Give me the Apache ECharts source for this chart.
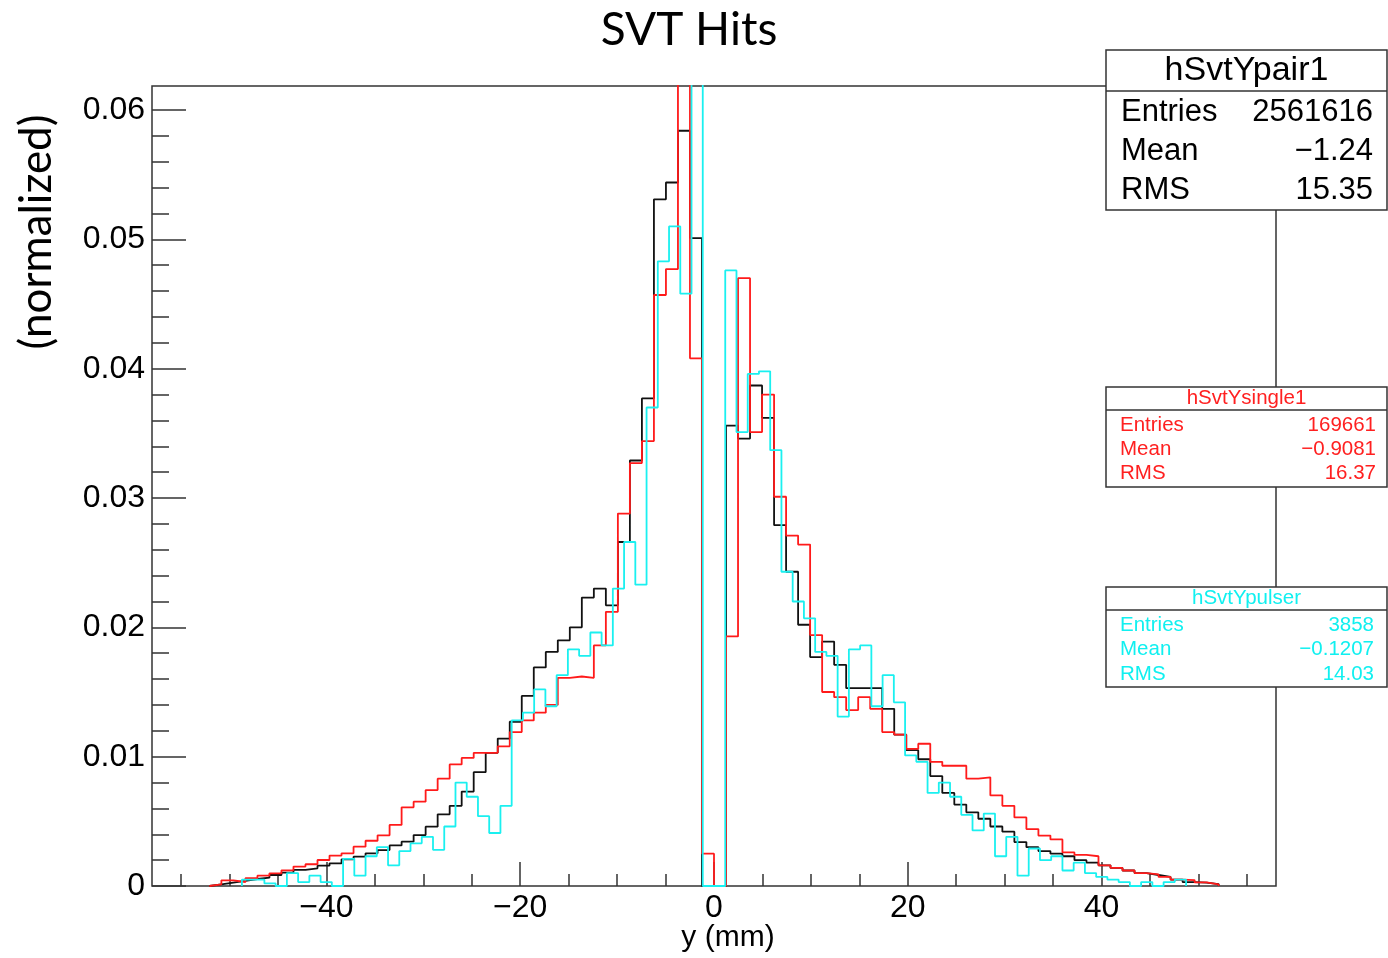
<!DOCTYPE html>
<html><head><meta charset="utf-8">
<script src="https://cdn.jsdelivr.net/npm/echarts@6/dist/echarts.min.js"></script>
<style>html,body{margin:0;padding:0;background:#fff}#c{width:1388px;height:958px}</style>
</head><body><div id="c"></div><script>
// ---- data (bin contents, normalized) ----
const pairStart = -52.08, pairWidth = 1.24;     // hSvtYpair1 bins (black)
const pairValues = [0.00013,0.00026,0.00039,0.00054,0.00064,0.00085,0.00103,0.00124,0.00137,0.00157,
 0.00175,0.00206,0.00227,0.00253,0.00278,0.00314,0.00343,0.00394,0.00459,0.00554,
 0.0062,0.0073,0.0088,0.0103,0.0114,0.0127,0.0147,0.0169,0.0181,0.0190,
 0.0200,0.0223,0.0230,0.0217,0.0266,0.0329,0.0377,0.0531,0.0544,0.0584,
 0.0501,0,0,0.0356,0.0346,0.0387,0.0362,0.0279,0.0243,0.0202,
 0.0177,0.0189,0.0171,0.0153,0.0153,0.0153,0.0137,0.0117,0.0105,0.0098,
 0.0085,0.0072,0.0063,0.0057,0.0052,0.0046,0.0042,0.0034,0.0030,0.0027,
 0.0025,0.0023,0.0020,0.0018,0.0016,0.0014,0.0012,0.0010,0.00085,0.0007,
 0.0005,0.0003,0.00026,0.00015];
const singleStart = -52.08, singleWidth = 1.24; // hSvtYsingle1 bins (red)
const singleValues = [0.00013,0.00044,0.00031,0.0006,0.0008,0.00098,0.00121,0.0015,0.00168,0.00201,
 0.00235,0.00253,0.00304,0.0035,0.00392,0.00472,0.00608,0.00652,0.00742,0.0083,
 0.0094,0.0099,0.0103,0.0103,0.0108,0.0119,0.0128,0.0134,0.0140,0.0161,
 0.0162,0.0161,0.0186,0.0212,0.0288,0.0327,0.0344,0.0457,0.0477,0.068,
 0.0408,0.0025,0,0.0193,0.0470,0.0351,0.0380,0.0301,0.0271,0.0264,
 0.0194,0.0150,0.0146,0.0136,0.0146,0.0137,0.0119,0.0117,0.0106,0.0110,
 0.0096,0.0093,0.0093,0.0083,0.0084,0.0070,0.0062,0.0053,0.0044,0.0039,
 0.0036,0.0026,0.0024,0.0023,0.0016,0.0014,0.0012,0.0010,0.0009,0.0007,
 0.0005,0.00046,0.00028,0.00013];
const pulserStart = -48.72, pulserWidth = 1.16;  // hSvtYpulser bins (cyan)
const pulserValues = [0.0005,0.0005,0.0002,0,0.0010,0.0003,0.0008,0.0003,0,0.0021,
 0.0008,0.0023,0.0030,0.0016,0.0027,0.0033,0.0038,0.0028,0.0046,0.0080,
 0.0069,0.0054,0.0041,0.0062,0.0128,0.0134,0.0152,0.0139,0.0163,0.0183,
 0.0178,0.0196,0.0186,0.0230,0.0266,0.0233,0.0370,0.0483,0.0510,0.0458,
 0.070,0,0,0.0476,0.0351,0.0396,0.0398,0.0337,0.0243,0.0220,
 0.0207,0.0181,0.0178,0.0131,0.0183,0.0186,0.0139,0.0163,0.0142,0.0101,
 0.0096,0.0072,0.0080,0.0069,0.0055,0.0043,0.0056,0.0023,0.0038,0.0008,
 0.0029,0.0020,0.0023,0.0012,0.0018,0.0010,0.0007,0.0005,0.0003,0,
 0.0003,0,0.0003,0.0005];
const xMajorTicks = [-40,-20,0,20,40];
const xMinorTicks = [-55,-50,-45,-35,-30,-25,-15,-10,-5,5,10,15,25,30,35,45,50,55];
const yMajorTicks = [0,0.01,0.02,0.03,0.04,0.05,0.06];
const yMinorTicks = [0.002,0.004,0.006,0.008,0.012,0.014,0.016,0.018,0.022,0.024,0.026,0.028,
 0.032,0.034,0.036,0.038,0.042,0.044,0.046,0.048,0.052,0.054,0.056,0.058];
const chartTitle = 'SVT Hits';
const xTitle = 'y (mm)';
const yTitle = '(normalized)';
const statNames = ['hSvtYpair1','hSvtYsingle1','hSvtYpulser'];
const statEntries = ['2561616','169661','3858'];
const statMeans = ['\u22121.24','\u22120.9081','\u22120.1207'];
const statRms = ['15.35','16.37','14.03'];

// ---- build ----
function steps(vals, start, w){
  const pts=[[start,0]];
  vals.forEach((v,i)=>{pts.push([start+i*w,v]);pts.push([start+(i+1)*w,v]);});
  pts.push([start+vals.length*w,0]);
  return pts;
}
const FONT='"Liberation Sans", Arial, sans-serif';
const TICK='#333';
function xAxisDef(ticks, len, labels){
  return {type:'value',min:-58,max:58,position:'bottom',gridIndex:0,
    axisLine:{show:false,onZero:false},splitLine:{show:false},
    axisTick:{show:true,inside:true,length:len,customValues:ticks,lineStyle:{color:TICK,width:1.5}},
    axisLabel:labels?{show:true,customValues:ticks,margin:6,fontSize:32,fontFamily:FONT,color:'#000',
      formatter:v=>v<0?'\u2212'+Math.abs(v):String(v)}:{show:false}};
}
function yAxisDef(ticks, len, labels){
  return {type:'value',min:0,max:0.06186,position:'left',gridIndex:0,
    axisLine:{show:false,onZero:false},splitLine:{show:false},
    axisTick:{show:true,inside:true,length:len,customValues:ticks,lineStyle:{color:TICK,width:1.5}},
    axisLabel:labels?{show:true,customValues:ticks,margin:7,fontSize:32,fontFamily:FONT,color:'#000',
      formatter:v=>v===0?'0':v.toFixed(2)}:{show:false}};
}
function ser(name,data,color){
  return {name,type:'line',data,xAxisIndex:0,yAxisIndex:0,showSymbol:false,symbol:'none',
    clip:true,lineStyle:{color,width:1.8},itemStyle:{color},animation:false,silent:true};
}
const boxColors=['#000','#ff2020','#10f0f0'];
const boxes=[{x:1106,y:50,w:281,h:160,sep:91,title:34,font:31,rows:[112,151,190],l:1121,r:1373},
             {x:1106,y:387,w:281,h:100,sep:410,title:20.5,font:20.5,rows:[425,449,473],l:1120,r:1376},
             {x:1106,y:587,w:281,h:100,sep:610,title:20.5,font:20.5,rows:[625,649,674],l:1120,r:1374}];
const g=[];
function text(x,y,t,size,color,align,fam){
  g.push({type:'text',x,y,z:101,style:{text:t,fontSize:size,fontFamily:fam||FONT,fill:color,align:align||'left',verticalAlign:'middle'}});
}
boxes.forEach((b,i)=>{
  g.push({type:'rect',z:100,shape:{x:b.x,y:b.y,width:b.w,height:b.h},style:{fill:'#fff',stroke:'#333',lineWidth:1.5}});
  g.push({type:'line',z:100,shape:{x1:b.x,y1:b.sep,x2:b.x+b.w,y2:b.sep},style:{stroke:'#333',lineWidth:1.5}});
  const c=boxColors[i];
  text(b.x+b.w/2,(b.y+b.sep)/2,statNames[i],b.title,c,'center');
  const labs=['Entries','Mean','RMS'], vals=[statEntries[i],statMeans[i],statRms[i]];
  labs.forEach((L,j)=>{text(b.l,b.rows[j],L,b.font,c,'left');text(b.r,b.rows[j],vals[j],b.font,c,'right');});
});
text(689,30,chartTitle,46,'#000','center','Lato, "Open Sans", sans-serif');
text(728,938,xTitle,30,'#000','center');
g.push({type:'text',x:37,y:232,rotation:Math.PI/2,z:101,style:{text:yTitle,fontSize:44,fontFamily:'Lato, "Open Sans", sans-serif',fill:'#000',align:'center',verticalAlign:'middle'}});

const chart=echarts.init(document.getElementById('c'),null,{renderer:'canvas'});
chart.setOption({
  animation:false,backgroundColor:'#fff',
  grid:{left:152,right:112,top:86,bottom:72,show:true,borderColor:'#333',borderWidth:1.5,backgroundColor:'transparent',containLabel:false,outerBoundsMode:'none'},
  xAxis:[xAxisDef(xMajorTicks,24,true),xAxisDef(xMinorTicks,12,false)],
  yAxis:[yAxisDef(yMajorTicks,34,true),yAxisDef(yMinorTicks,17,false)],
  series:[ser('hSvtYpair1',steps(pairValues,pairStart,pairWidth),'#111'),
          ser('hSvtYsingle1',steps(singleValues,singleStart,singleWidth),'#ff1a1a'),
          ser('hSvtYpulser',steps(pulserValues,pulserStart,pulserWidth),'#1af0f0')],
  graphic:{elements:g}
});
</script></body></html>
